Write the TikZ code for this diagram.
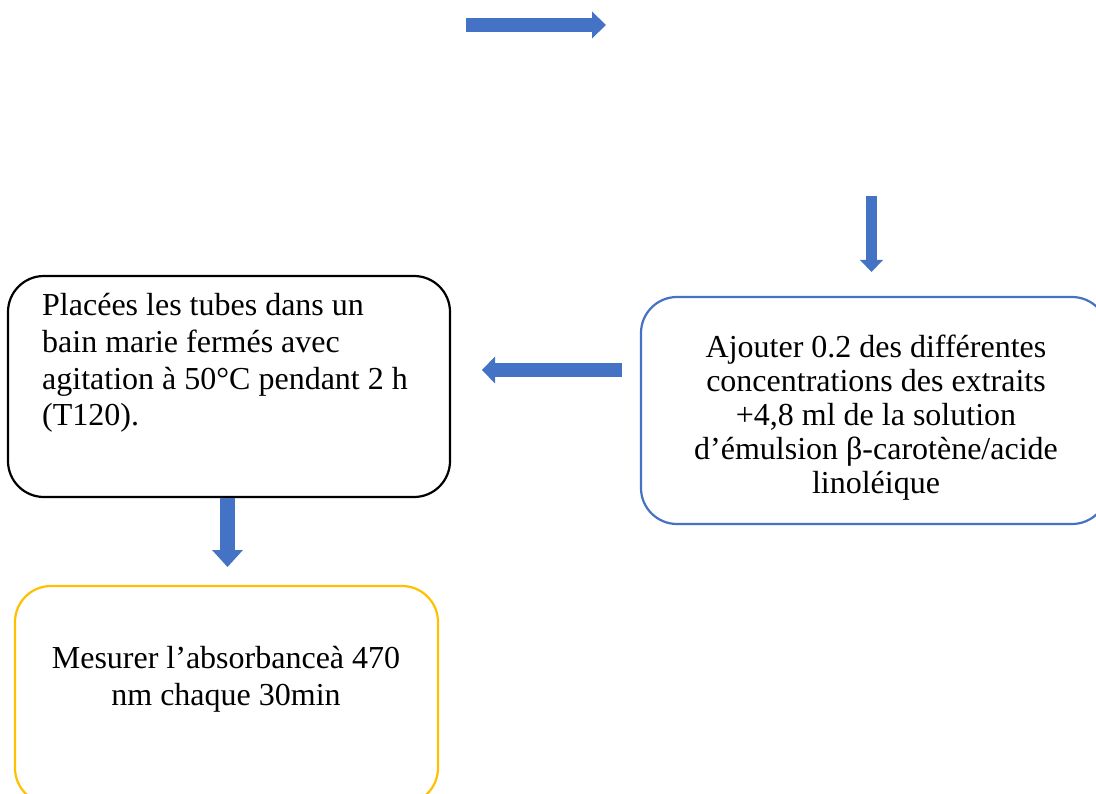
\documentclass[tikz,border=0pt]{standalone}
\usepackage{fontspec}
\setmainfont{Liberation Serif}
\usetikzlibrary{arrows.meta}
\definecolor{flowblue}{HTML}{4472C4}
\definecolor{flowgold}{HTML}{FFC000}

\begin{document}
\begin{tikzpicture}[x=1pt,y=-1pt,
  stepbox/.style={draw, line width=2.2pt, rounded corners=36pt},
  steptext/.style={inner sep=0pt, font=\fontsize{32}{#1}\selectfont},
  blockarrow/.style args={#1/#2/#3}{draw=flowblue, line width=#1pt,
    -{Triangle[length=#2pt, width=#3pt, line width=0pt, fill=flowblue]}}]
  \useasboundingbox (0,0) rectangle (1096,794);
  \clip (0,0) rectangle (1096,794);

  % process boxes
  \draw[stepbox, black] (8,276) rectangle (450,497);
  \draw[stepbox, flowblue] (641,297) rectangle (1108,524);
  \draw[stepbox, flowgold] (15,586) rectangle (438,804);

  % box texts
  \node[steptext=36.8, anchor=north west, align=left] (tubes) at (42,293)
    {Placées les tubes dans un\\bain marie fermés avec\\agitation à 50°C pendant 2 h\\(T120).};
  \node[steptext=34, anchor=north, align=center] (ajout) at (876,335)
    {Ajouter 0.2 des différentes\\concentrations des extraits\\+4,8 ml de la solution\\d’émulsion β-carotène/acide\\linoléique};
  \node[steptext=37, anchor=north, align=center] (mesure) at (226,646)
    {Mesurer l’absorbanceà 470\\nm chaque 30min};

  % arrow end points
  \coordinate (topA) at (466,25);
  \coordinate (topB) at (606,25);
  \coordinate (downA) at (871.5,196);
  \coordinate (downB) at (871.5,272);
  \coordinate (leftA) at (622,370);
  \coordinate (leftB) at (482,370);
  \coordinate (lowA) at (227.5,498);
  \coordinate (lowB) at (227.5,567);

  % block arrows
  \draw[blockarrow=14/14/27] (topA) -- (topB);
  \draw[blockarrow=11/12/23] (downA) -- (downB);
  \draw[blockarrow=14/13/27] (leftA) -- (leftB);
  \draw[blockarrow=15/17/31] (lowA) -- (lowB);
\end{tikzpicture}
\end{document}
